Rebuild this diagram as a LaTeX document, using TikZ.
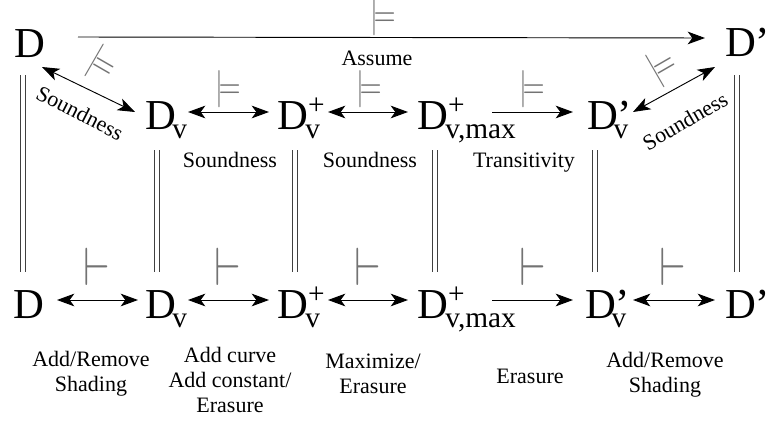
\documentclass[tikz,border=0pt]{standalone}
\usepackage{fontspec}
\setmainfont{Liberation Serif}
\usepackage{graphicx}
\usetikzlibrary{arrows.meta}
\newcommand\bigf{\fontsize{32pt}{36pt}\selectfont}
\newcommand\subf{\fontsize{22pt}{24pt}\selectfont}
\newcommand\smallf{\fontsize{16.5pt}{18.75pt}\selectfont}
\newcommand\Dsub[1]{D\kern-0.08em\raisebox{-0.23em}{\subf #1}}
\newcommand\Dsubsup[2]{D\rlap{\kern0.01em\raisebox{0.35em}{\subf #1}}\kern-0.06em\raisebox{-0.23em}{\subf #2}}
\newcommand\Dprsub[1]{D\rlap{’}\kern-0.1em\raisebox{-0.23em}{\subf #1}}
\newcommand\mdl{\resizebox*{19pt}{28pt}{$\models$}}
\newcommand\vdsh{\resizebox*{20pt}{28pt}{$\vdash$}}
\tikzset{
  tip/.tip={Stealth[length=13pt,width=9.5pt,inset=3.5pt]},
  arr/.style={-tip, line width=0.7pt},
  darr/.style={tip-tip, line width=0.7pt},
  eqline/.style={double=white, double distance=2.6pt, line width=0.6pt, draw=black!75},
  dnode/.style={font=\bigf, inner sep=0pt, outer sep=0pt, anchor=base west},
  lab/.style={font=\smallf, inner sep=0pt},
  ts/.style={inner sep=0pt, text=black!55},
}
\begin{document}
\begin{tikzpicture}[x=0.75pt, y=-0.75pt]
\useasboundingbox (0,0) rectangle (769,421);
% nodes
\node[dnode] (T0) at (14,57) {D};
\node[dnode] (T1) at (725,56) {D’};
\node[dnode] (M1) at (145,129) {\Dsub{v}};
\node[dnode] (M2) at (277,129) {\Dsubsup{+}{v}};
\node[dnode] (M3) at (417,129) {\Dsubsup{+}{v,max}};
\node[dnode] (M4) at (587,129) {\Dprsub{v}};
\node[dnode] (B0) at (13,318) {D};
\node[dnode] (B1) at (145,318) {\Dsub{v}};
\node[dnode] (B2) at (277,318) {\Dsubsup{+}{v}};
\node[dnode] (B3) at (417,318) {\Dsubsup{+}{v,max}};
\node[dnode] (B4) at (585,318) {\Dprsub{v}};
\node[dnode] (B5) at (725,318) {D’};
% top long arrow
\draw[arr] ([shift={(64,-20)}]T0.base west) -- ([shift={(-20,-18)}]T1.base west);
% diagonal arrows
\draw[darr] ([shift={(28,10)}]T0.base west) -- ([shift={(-10,-17)}]M1.base west);
\draw[darr] ([shift={(46,-17)}]M4.base west) -- ([shift={(-10,11)}]T1.base west);
% middle row
\draw[darr] ([shift={(43,-17)}]M1.base west) -- ([shift={(-8,-17)}]M2.base west);
\draw[darr] ([shift={(51,-17)}]M2.base west) -- ([shift={(-9,-17)}]M3.base west);
\draw[arr] ([shift={(75,-17)}]M3.base west) -- ([shift={(-14,-17)}]M4.base west);
% bottom row
\draw[darr] ([shift={(44,-18)}]B0.base west) -- ([shift={(-7,-18)}]B1.base west);
\draw[darr] ([shift={(43,-18)}]B1.base west) -- ([shift={(-8,-18)}]B2.base west);
\draw[darr] ([shift={(51,-18)}]B2.base west) -- ([shift={(-9,-18)}]B3.base west);
\draw[arr] ([shift={(75,-18)}]B3.base west) -- ([shift={(-12,-18)}]B4.base west);
\draw[darr] ([shift={(48,-18)}]B4.base west) -- ([shift={(-10,-18)}]B5.base west);
% vertical equalities
\draw[eqline] ([shift={(9,18)}]T0.base west) -- ([shift={(10,-46)}]B0.base west);
\draw[eqline] ([shift={(12,21)}]M1.base west) -- ([shift={(12,-46)}]B1.base west);
\draw[eqline] ([shift={(18,21)}]M2.base west) -- ([shift={(18,-46)}]B2.base west);
\draw[eqline] ([shift={(18,21)}]M3.base west) -- ([shift={(18,-46)}]B3.base west);
\draw[eqline] ([shift={(8,21)}]M4.base west) -- ([shift={(10,-46)}]B4.base west);
\draw[eqline] ([shift={(12,19)}]T1.base west) -- ([shift={(12,-46)}]B5.base west);
% turnstiles
\node[ts] (s0) at (383,17) {\mdl};
\node[ts, rotate=-30] (s1) at (102,65) {\mdl};
\node[ts, rotate=30] (s2) at (663,67) {\mdl};
\node[ts] (s3) at (228,89) {\mdl};
\node[ts] (s4) at (369,89) {\mdl};
\node[ts] (s5) at (532,89) {\mdl};
\node[ts] (b1) at (97,267) {\vdsh};
\node[ts] (b2) at (228,267) {\vdsh};
\node[ts] (b3) at (368,267) {\vdsh};
\node[ts] (b4) at (533,267) {\vdsh};
\node[ts] (b5) at (673,267) {\vdsh};
% labels
\node[lab, anchor=base] (la) at (377,65) {Assume};
\node[lab, rotate=-27] (ls1) at (80,113) {Soundness};
\node[lab, rotate=30] (ls2) at (685,121) {Soundness};
\node[lab, anchor=base] (lm1) at (230,167) {Soundness};
\node[lab, anchor=base] (lm2) at (370,167) {Soundness};
\node[lab, anchor=base] (lm3) at (524,167) {Transitivity};
\node[lab, align=center] (l1) at (91,374) {Add/Remove\\Shading};
\node[lab, align=center] (l2) at (230,380) {Add curve\\Add constant/\\Erasure};
\node[lab, align=center] (l3) at (373,374) {Maximize/\\Erasure};
\node[lab, anchor=base] (l4) at (530,383) {Erasure};
\node[lab, align=center] (l5) at (665,375) {Add/Remove\\Shading};
\end{tikzpicture}
\end{document}
